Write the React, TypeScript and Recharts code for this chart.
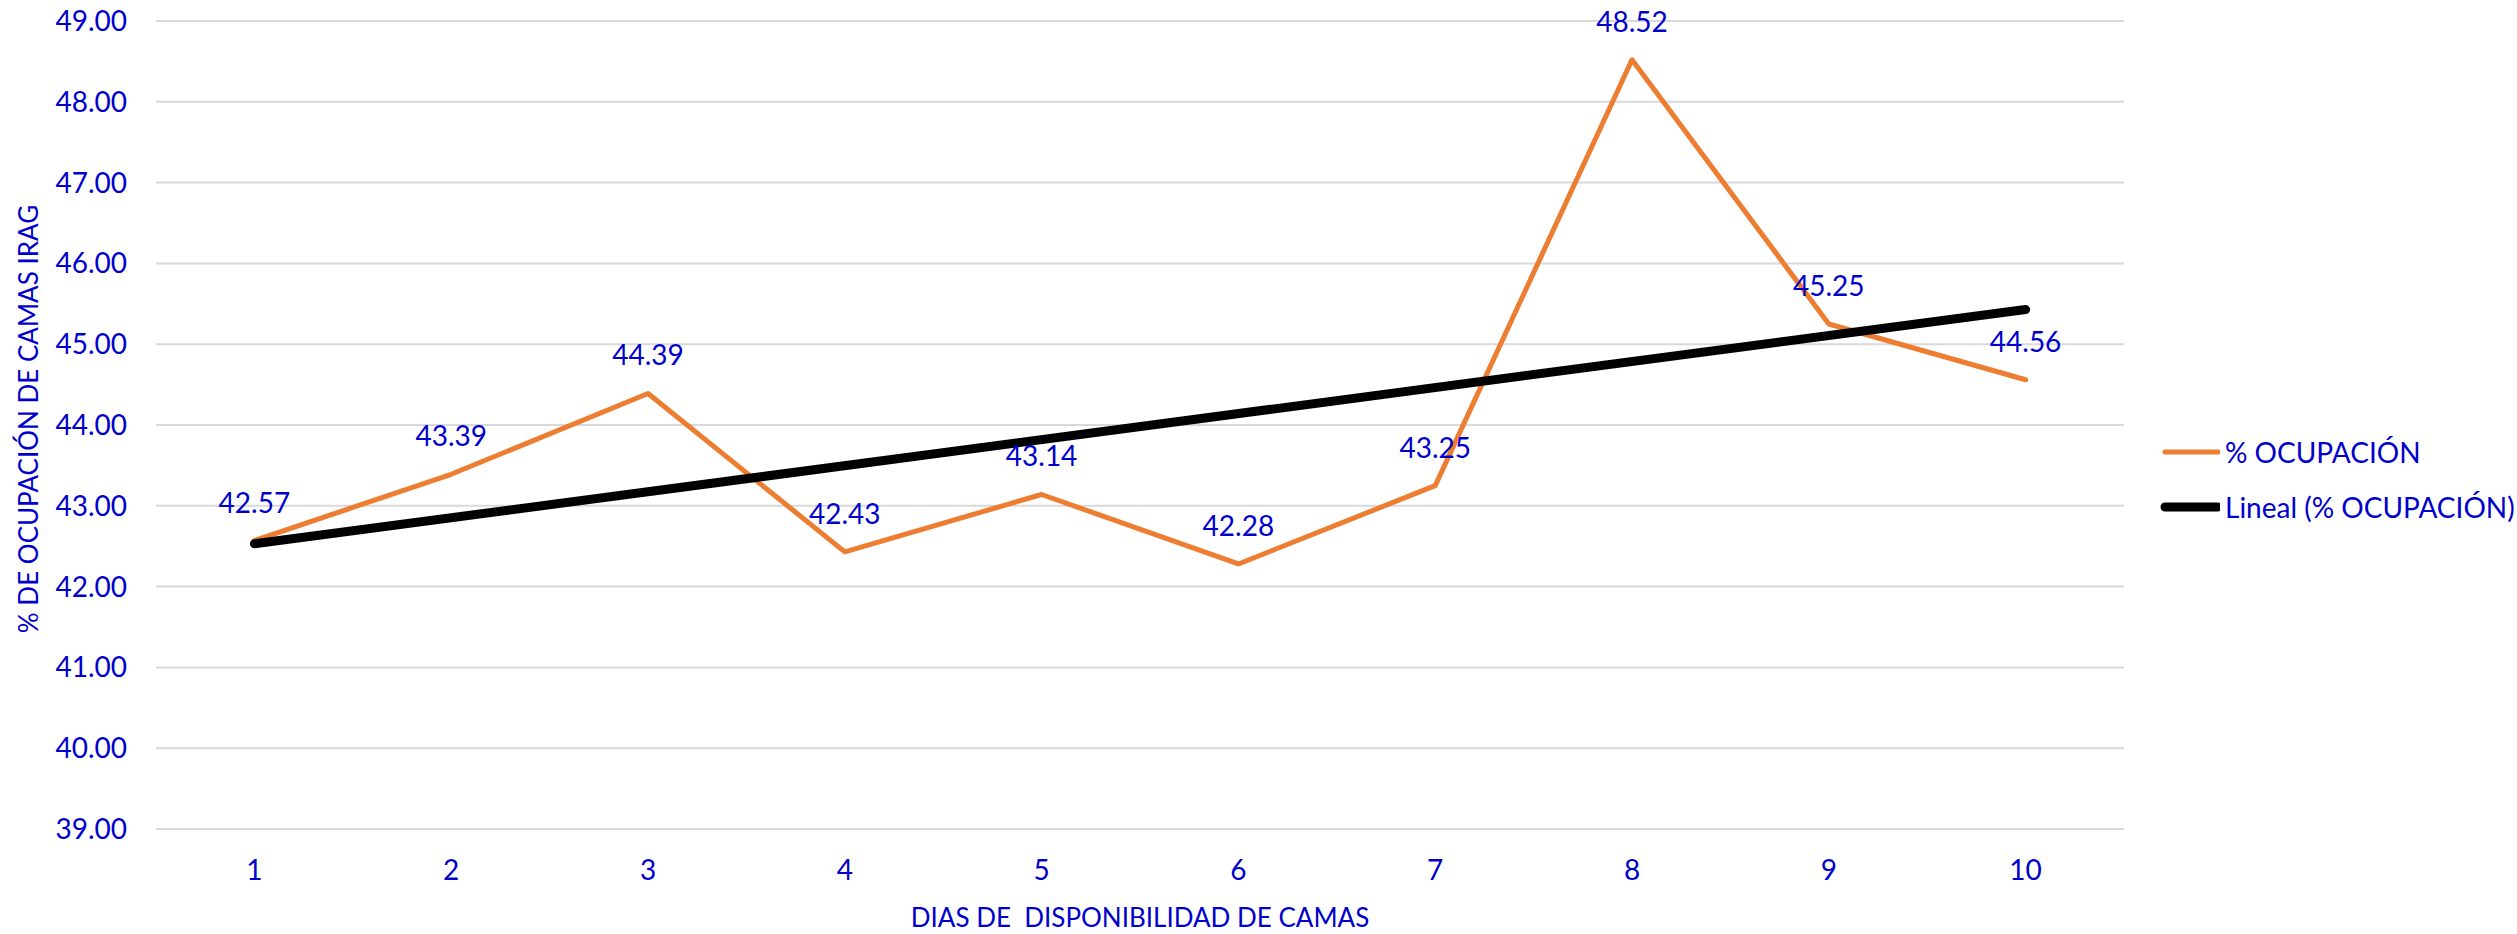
import * as React from "react";
import { LineChart, Line, XAxis, YAxis, CartesianGrid, Legend, LabelList } from "recharts";

const days = [1, 2, 3, 4, 5, 6, 7, 8, 9, 10];
const ocupacion = [42.57, 43.39, 44.39, 42.43, 43.14, 42.28, 43.25, 48.52, 45.25, 44.56];
// linear trend at first and last day
const trendStart = 42.53;
const trendEnd = 45.43;
const yTicks = [39, 40, 41, 42, 43, 44, 45, 46, 47, 48, 49];
const separatorTicks = [0, 1, 2, 3, 4, 5, 6, 7, 8, 9, 10];

const BLUE = "#0000CC";
const ORANGE = "#ED7D31";
const GRID = "#D9D9D9";

const data = days.map((d, i) => ({
  day: d,
  ocup: ocupacion[i],
  trend: i === 0 ? trendStart : i === days.length - 1 ? trendEnd : null,
}));

const legendWidths: Record<string, number> = { ocup: 5, trend: 9 };

function LegendContent({ payload }: any) {
  if (!payload) return null;
  return (
    <div>
      {payload.map((entry: any, i: number) => (
        <div key={i} style={{ display: "flex", alignItems: "center", height: 55 }}>
          <svg width={60} height={16}>
            <line x1={5} x2={58} y1={8} y2={8} stroke={entry.color} strokeWidth={legendWidths[entry.dataKey] || 5} strokeLinecap="round" />
          </svg>
          <span style={{ color: BLUE, fontSize: 28, marginLeft: 5, whiteSpace: "nowrap" }}>{entry.value}</span>
        </div>
      ))}
    </div>
  );
}

function YTitle({ viewBox }: any) {
  if (!viewBox) return null;
  const cx = viewBox.x + 28;
  const cy = viewBox.y + viewBox.height / 2 - 6;
  return (
    <text x={cx} y={cy} transform={`rotate(-90, ${cx}, ${cy})`} textAnchor="middle" dominantBaseline="central" fill={BLUE} fontSize={26}>
      % DE OCUPACIÓN DE CAMAS IRAG
    </text>
  );
}

export default function App() {
  return (
    <div style={{ position: "absolute", left: 0, top: 0, fontFamily: "Lato, sans-serif", background: "#fff" }}>
      <LineChart width={2517} height={934} data={data} margin={{ top: 21, right: 393, bottom: 0, left: 0 }}>
        <CartesianGrid vertical={false} stroke={GRID} strokeWidth={2} />
        <XAxis
          xAxisId={0}
          type="number"
          domain={[0, 10]}
          ticks={separatorTicks}
          interval={0}
          allowDataOverflow
          height={1}
          tick={false}
          tickSize={10}
          tickLine={{ stroke: GRID, strokeWidth: 2 }}
          axisLine={{ stroke: GRID, strokeWidth: 2 }}
        />
        <XAxis
          xAxisId={1}
          dataKey="day"
          type="number"
          domain={[0.5, 10.5]}
          ticks={days}
          interval={0}
          height={104}
          axisLine={false}
          tickLine={false}
          tickSize={0}
          tickMargin={30}
          tick={{ fill: BLUE, fontSize: 28 }}
          label={{ value: "DIAS DE\u00A0 DISPONIBILIDAD DE CAMAS", position: "insideBottom", offset: 7, fill: BLUE, fontSize: 26 }}
        />
        <YAxis
          domain={[39, 49]}
          ticks={yTicks}
          interval={0}
          width={156}
          axisLine={false}
          tickLine={false}
          tickSize={0}
          tickMargin={29}
          tick={{ fill: BLUE, fontSize: 28 }}
          tickFormatter={(v: number) => v.toFixed(2)}
          label={{ content: <YTitle /> }}
        />
        <Line
          xAxisId={1}
          dataKey="ocup"
          name="% OCUPACIÓN"
          stroke={ORANGE}
          strokeWidth={5}
          strokeLinejoin="round"
          strokeLinecap="round"
          dot={false}
          isAnimationActive={false}
        >
          <LabelList dataKey="ocup" position="top" offset={28} fill={BLUE} fontSize={28} formatter={(v: any) => Number(v).toFixed(2)} />
        </Line>
        <Line
          xAxisId={1}
          dataKey="trend"
          name="Lineal (% OCUPACIÓN)"
          stroke="#000000"
          strokeWidth={9}
          strokeLinecap="round"
          connectNulls
          dot={false}
          isAnimationActive={false}
        />
        <Legend
          layout="vertical"
          align="center"
          verticalAlign="middle"
          content={<LegendContent />}
          wrapperStyle={{ left: 2160, top: 424, width: 357 }}
        />
      </LineChart>
    </div>
  );
}
